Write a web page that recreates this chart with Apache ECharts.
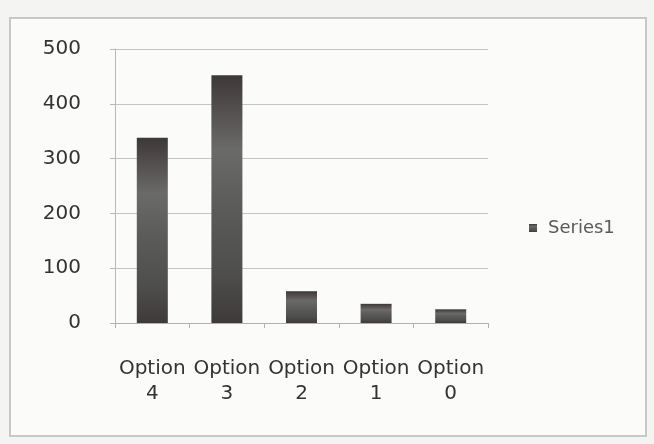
<!DOCTYPE html>
<html><head><meta charset="utf-8">
<script src="https://cdn.jsdelivr.net/npm/echarts@6/dist/echarts.min.js"></script>
<style>html,body{margin:0;padding:0;background:#f2f2f0;}#c{width:654px;height:444px;}</style>
</head><body><div id="c"></div>
<script>
const categories = ['Option 4', 'Option 3', 'Option 2', 'Option 1', 'Option 0'];
const series1 = [338, 452, 58, 35, 25];
const yTicks = [0, 100, 200, 300, 400, 500];

const chart = echarts.init(document.getElementById('c'));
chart.setOption({
  backgroundColor: '#f4f4f2',
  animation: false,
  graphic: [{
    type: 'rect', shape: {x: 10, y: 18, width: 636, height: 418},
    style: {fill: '#fbfbfa', stroke: '#c8c8c6', lineWidth: 2}, silent: true, z: -10
  }],
  grid: {left: 115, right: 166, top: 49, bottom: 121},
  legend: {
    orient: 'vertical', left: 524, top: 214,
    itemWidth: 8, itemHeight: 8, icon: 'rect', itemGap: 8,
    textStyle: {fontFamily: 'DejaVu Sans', fontSize: 18, color: '#5a5a5a', padding: [0, 0, 0, 6]},
    data: ['Series1']
  },
  xAxis: {
    type: 'category', data: categories,
    axisLine: {show: true, lineStyle: {color: '#b0b0b0', width: 1}},
    axisTick: {show: true, length: 5, lineStyle: {color: '#b0b0b0'}},
    axisLabel: {
      interval: 0, margin: 33, lineHeight: 25,
      fontFamily: 'DejaVu Sans', fontSize: 20, color: '#333',
      formatter: v => v.replace(' ', '\n')
    }
  },
  yAxis: {
    type: 'value', min: 0, max: 500, interval: 100,
    axisLine: {show: true, lineStyle: {color: '#b8b8b8'}},
    axisTick: {show: true, length: 5, lineStyle: {color: '#b8b8b8'}},
    splitLine: {lineStyle: {color: '#c4c4c4', width: 1}},
    axisLabel: {
      margin: 34, fontFamily: 'DejaVu Sans', fontSize: 20, color: '#333',
      formatter: v => yTicks.includes(v) ? String(v) : ''
    }
  },
  series: [{
    name: 'Series1', type: 'bar', data: series1, barWidth: 31,
    itemStyle: {
      color: {
        type: 'linear', x: 0, y: 0, x2: 0, y2: 1,
        colorStops: [
          {offset: 0, color: '#3e3838'},
          {offset: 0.3, color: '#6a6a68'},
          {offset: 0.55, color: '#5a5a58'},
          {offset: 0.8, color: '#4e4e4c'},
          {offset: 1, color: '#3e3a3a'}
        ]
      }
    }
  }]
});
</script></body></html>
